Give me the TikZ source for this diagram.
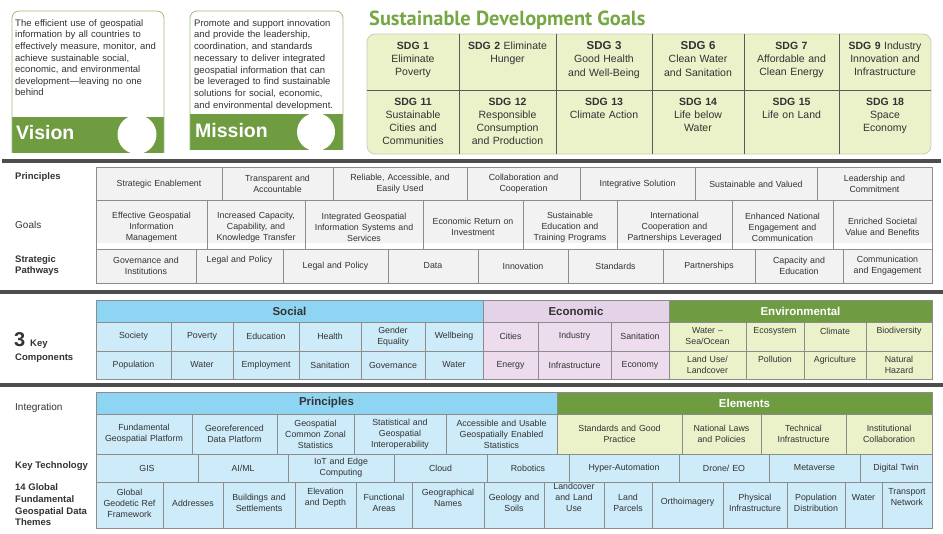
\documentclass[tikz,border=0pt]{standalone}
\usepackage{fontspec}
\setmainfont{Liberation Sans}
\newfontfamily\titlefont{PT Sans}
\definecolor{vgreen}{HTML}{6F9B41}
\definecolor{tgreen}{HTML}{77A744}
\definecolor{sdgfill}{HTML}{EBF1C9}
\definecolor{sdgline}{HTML}{C9D1B3}
\definecolor{lgreen}{HTML}{EBF1C9}
\definecolor{bluehd}{HTML}{8ED5F3}
\definecolor{bluec}{HTML}{CDEBF8}
\definecolor{pinkhd}{HTML}{E4D2E8}
\definecolor{pinkc}{HTML}{ECDCEE}
\definecolor{grayc}{HTML}{F2F2F2}
\definecolor{bord}{HTML}{8C8C8C}
\definecolor{txt}{HTML}{333333}
\definecolor{sepc}{HTML}{4D4D4D}
\definecolor{boxline}{HTML}{9CBB7C}

\newcommand\mkcell[8][0]{%
  \pgfmathsetmacro\cw{#5-#4}\pgfmathsetmacro\ch{#7-#6}%
  \pgfmathsetmacro\cx{(#4+#5)/2}\pgfmathsetmacro\cyy{(#6+#7)/2}%
  \pgfmathsetmacro\cyt{(#6+#7)/2-#1}\pgfmathsetmacro\tw{#5-#4-3}%
  \node[#2, minimum width=\cw pt, minimum height=\ch pt] (#3) at (\cx,\cyy) {};%
  \node[celltext, text width=\tw pt] (#3t) at (\cx,\cyt) {#8};}
\newcommand\hd[1]{\fontsize{11.5}{13}\selectfont\bfseries #1}
\newcommand\hdw[1]{\fontsize{11.5}{13}\selectfont\bfseries\color{white}#1}

\begin{document}
\begin{tikzpicture}[x=1pt,y=-1pt,
  cellbase/.style={rectangle, draw=bord, line width=0.6pt, inner sep=0pt, outer sep=0pt},
  graycell/.style={cellbase, fill=grayc},
  bluecell/.style={cellbase, fill=bluec},
  pinkcell/.style={cellbase, fill=pinkc},
  greencell/.style={cellbase, fill=lgreen},
  bluehead/.style={cellbase, fill=bluehd},
  pinkhead/.style={cellbase, fill=pinkhd},
  greenhead/.style={cellbase, fill=vgreen},
  celltext/.style={inner sep=0pt, align=center, text=txt, font=\fontsize{8.8}{11}\selectfont},
  lbl/.style={anchor=west, inner sep=0pt, text=txt, align=left, font=\fontsize{9.5}{11.5}\selectfont\bfseries},
  lblr/.style={anchor=west, inner sep=0pt, text=txt, align=left, font=\fontsize{10}{12}\selectfont},
  sepline/.style={draw=sepc, line width=3.5pt},
  boxtext/.style={anchor=north west, inner sep=0pt, text=txt, align=left, text width=152pt, font=\fontsize{9.5}{11.65}\selectfont},
  bigword/.style={anchor=base west, inner sep=0pt, text=white, font=\fontsize{19.5}{21}\selectfont\bfseries},
  sdgtext/.style={anchor=north, inner sep=0pt, align=center, text=txt, font=\fontsize{10.5}{13.2}\selectfont},
  divline/.style={draw=black!65, line width=0.7pt}
]
\useasboundingbox (0,0) rectangle (943,534);
\fill[white] (0,0) rectangle (943,534);

% ---------- Vision ----------
\fill[vgreen] (12,117) rectangle (164,153);
\draw[draw=boxline, line width=0.8pt, rounded corners=7] (12,153) -- (12,11) -- (164,11) -- (164,153);
\fill[white] (137,134.5) circle (19.5);
\node[boxtext] (vtext) at (15,19) {The efficient use of geospatial\\information by all countries to\\effectively measure, monitor, and\\achieve sustainable social,\\economic, and environmental\\development---leaving no one\\behind};
\node[bigword] (vword) at (16,140) {Vision};

% ---------- Mission ----------
\fill[vgreen] (190,114) rectangle (343,150);
\draw[draw=boxline, line width=0.8pt, rounded corners=7] (190,150) -- (190,11) -- (343,11) -- (343,150);
\fill[white] (316,132) circle (19);
\node[boxtext, font=\fontsize{9.5}{11.75}\selectfont] (mtext) at (194,19) {Promote and support innovation\\and provide the leadership,\\coordination, and standards\\necessary to deliver integrated\\geospatial information that can\\be leveraged to find sustainable\\solutions for social, economic,\\and environmental development.};
\node[bigword] (mword) at (195,138) {Mission};

% ---------- SDGs ----------
\node[anchor=west, inner sep=0pt, text=tgreen, font=\titlefont\fontsize{20.4}{22}\selectfont\bfseries] (sdgtitle) at (369,20) {Sustainable Development Goals};
\draw[draw=sdgline, fill=sdgfill, line width=0.8pt, rounded corners=8] (367,34) rectangle (931,154);
\draw[divline] (367,90) -- (931,90);
\foreach \xx in {459,556,652,744,839} \draw[divline] (\xx,34) -- (\xx,154);
\node[sdgtext, text width=88pt] (sdg1) at (413,41.5) {\textbf{SDG 1}\\Eliminate\\Poverty};
\node[sdgtext, text width=93pt] (sdg2) at (507.5,41.5) {\textbf{SDG 2} Eliminate\\Hunger};
\node[sdgtext, text width=92pt] (sdg3) at (604,41.5) {{\fontsize{11.5}{13.2}\selectfont\bfseries SDG 3}\\Good Health\\and Well-Being};
\node[sdgtext, text width=88pt] (sdg6) at (698,41.5) {{\fontsize{11.5}{13.2}\selectfont\bfseries SDG 6}\\Clean Water\\and Sanitation};
\node[sdgtext, text width=91pt] (sdg7) at (791.5,41.5) {\textbf{SDG 7}\\Affordable and\\Clean Energy};
\node[sdgtext, text width=90pt] (sdg9) at (885,41.5) {\textbf{SDG 9} Industry\\Innovation and\\Infrastructure};
\node[sdgtext, text width=88pt] (sdg11) at (413,97.5) {\textbf{SDG 11}\\Sustainable\\Cities and\\Communities};
\node[sdgtext, text width=93pt] (sdg12) at (507.5,97.5) {\textbf{SDG 12}\\Responsible\\Consumption\\and Production};
\node[sdgtext, text width=92pt] (sdg13) at (604,97.5) {\textbf{SDG 13}\\Climate Action};
\node[sdgtext, text width=88pt] (sdg14) at (698,97.5) {\textbf{SDG 14}\\Life below\\Water};
\node[sdgtext, text width=91pt] (sdg15) at (791.5,97.5) {\textbf{SDG 15}\\Life on Land};
\node[sdgtext, text width=90pt] (sdg18) at (885,97.5) {\textbf{SDG 18}\\Space\\Economy};

% ---------- separators ----------
\draw[sepline] (2,161) -- (941,161);
\draw[sepline] (0,292) -- (943,292);
\draw[sepline] (0,385) -- (943,385);

% ---------- Section 2 ----------
\node[lbl] (lprin) at (15,177) {Principles};
\node[lblr] (lgoals) at (15,225) {Goals};
\node[lbl] (lpath) at (15,265.5) {Strategic\\Pathways};

\mkcell[-1]{graycell}{p1}{96}{222}{167}{200}{Strategic Enablement}
\mkcell{graycell}{p2}{222}{333}{167}{200}{Transparent and\\Accountable}
\mkcell{graycell}{p3}{333}{467}{167}{200}{Reliable, Accessible, and\\Easily Used}
\mkcell{graycell}{p4}{467}{580}{167}{200}{Collaboration and\\Cooperation}
\mkcell[-1]{graycell}{p5}{580}{695}{167}{200}{Integrative Solution}
\mkcell[-1]{graycell}{p6}{695}{817}{167}{200}{Sustainable and Valued}
\mkcell{graycell}{p7}{817}{932}{167}{200}{Leadership and\\Commitment}

\begin{scope}
\clip (90,200) rectangle (940,243);
\mkcell[-3]{graycell}{g1}{96}{207}{200}{249}{Effective Geospatial\\Information\\Management}
\mkcell[-3]{graycell}{g2}{207}{305}{200}{249}{Increased Capacity,\\Capability, and\\Knowledge Transfer}
\mkcell[-3]{graycell}{g3}{305}{423}{200}{249}{Integrated Geospatial\\Information Systems and\\Services}
\mkcell[-2]{graycell}{g4}{423}{523}{200}{249}{Economic Return on\\Investment}
\mkcell[-3]{graycell}{g5}{523}{617}{200}{249}{Sustainable\\Education and\\Training Programs}
\mkcell[-3]{graycell}{g6}{617}{732}{200}{249}{International\\Cooperation and\\Partnerships Leveraged}
\mkcell[-3]{graycell}{g7}{732}{833}{200}{249}{Enhanced National\\Engagement and\\Communication}
\mkcell[-2]{graycell}{g8}{833}{932}{200}{249}{Enriched Societal\\Value and Benefits}
\end{scope}
\foreach \xx in {96,207,305,423,523,617,732,833,932} \draw[draw=bord, line width=0.6pt] (\xx,243) -- (\xx,249);

\mkcell{graycell}{s1}{96}{196}{249}{283}{Governance and\\Institutions}
\mkcell[6]{graycell}{s2}{196}{283}{249}{283}{Legal and Policy}
\mkcell{graycell}{s3}{283}{388}{249}{283}{Legal and Policy}
\mkcell{graycell}{s4}{388}{478}{249}{283}{Data}
\mkcell{graycell}{s5}{478}{568}{249}{283}{Innovation}
\mkcell{graycell}{s6}{568}{663}{249}{283}{Standards}
\mkcell{graycell}{s7}{663}{755}{249}{283}{Partnerships}
\mkcell{graycell}{s8}{755}{843}{249}{283}{Capacity and\\Education}
\mkcell{graycell}{s9}{843}{932}{249}{283}{Communication\\and Engagement}

% ---------- Section 3 ----------
\node[inner sep=0pt, anchor=base west, text=txt, font=\fontsize{20}{22}\selectfont\bfseries] (lthree) at (14,347) {3};
\node[inner sep=0pt, anchor=base west, text=txt, font=\fontsize{9.5}{11}\selectfont\bfseries] (lkey) at (30,347) {Key};
\node[inner sep=0pt, anchor=base west, text=txt, font=\fontsize{9.5}{11}\selectfont\bfseries] (lcomp) at (15,361) {Components};

\mkcell{bluehead}{hsoc}{96}{483}{300}{322}{\hd{Social}}
\mkcell{pinkhead}{heco}{483}{669}{300}{322}{\hd{Economic}}
\mkcell{greenhead}{henv}{669}{932}{300}{322}{\hdw{Environmental}}

\mkcell{bluecell}{c1}{96}{171}{322}{351}{Society}
\mkcell{bluecell}{c2}{171}{233}{322}{351}{Poverty}
\mkcell{bluecell}{c3}{233}{299}{322}{351}{Education}
\mkcell{bluecell}{c4}{299}{361}{322}{351}{Health}
\mkcell{bluecell}{c5}{361}{425}{322}{351}{Gender\\Equality}
\mkcell{bluecell}{c6}{425}{483}{322}{351}{Wellbeing}
\mkcell{bluecell}{c7}{96}{171}{351}{379}{Population}
\mkcell{bluecell}{c8}{171}{233}{351}{379}{Water}
\mkcell{bluecell}{c9}{233}{299}{351}{379}{Employment}
\mkcell{bluecell}{c10}{299}{361}{351}{379}{Sanitation}
\mkcell{bluecell}{c11}{361}{425}{351}{379}{Governance}
\mkcell{bluecell}{c12}{425}{483}{351}{379}{Water}

\mkcell{pinkcell}{c13}{483}{538}{322}{351}{Cities}
\mkcell{pinkcell}{c14}{538}{611}{322}{351}{Industry}
\mkcell{pinkcell}{c15}{611}{669}{322}{351}{Sanitation}
\mkcell{pinkcell}{c16}{483}{538}{351}{379}{Energy}
\mkcell{pinkcell}{c17}{538}{611}{351}{379}{Infrastructure}
\mkcell{pinkcell}{c18}{611}{669}{351}{379}{Economy}

\mkcell{greencell}{c19}{669}{746}{322}{351}{Water --\\Sea/Ocean}
\mkcell[5.5]{greencell}{c20}{746}{804}{322}{351}{Ecosystem}
\mkcell[5.5]{greencell}{c21}{804}{866}{322}{351}{Climate}
\mkcell[5.5]{greencell}{c22}{866}{932}{322}{351}{Biodiversity}
\mkcell{greencell}{c23}{669}{746}{351}{379}{Land Use/\\Landcover}
\mkcell[6]{greencell}{c24}{746}{804}{351}{379}{Pollution}
\mkcell[5]{greencell}{c25}{804}{866}{351}{379}{Agriculture}
\mkcell{greencell}{c26}{866}{932}{351}{379}{Natural\\Hazard}

% ---------- Section 4 ----------
\node[lblr] (linteg) at (15,408) {Integration};
\node[lbl] (ltech) at (15,466) {Key Technology};
\node[lbl, font=\fontsize{9.5}{11.7}\selectfont\bfseries] (lthemes) at (15,505) {14 Global\\Fundamental\\Geospatial Data\\Themes};

\mkcell{bluehead}{hpri}{96}{557}{392}{414}{\hd{Principles}}
\mkcell{greenhead}{hele}{557}{932}{392}{414}{\hdw{Elements}}

\mkcell{bluecell}{i1}{96}{192}{414}{454}{Fundamental\\Geospatial Platform}
\mkcell{bluecell}{i2}{192}{277}{414}{454}{Georeferenced\\Data Platform}
\mkcell{bluecell}{i3}{277}{354}{414}{454}{Geospatial\\Common Zonal\\Statistics}
\mkcell{bluecell}{i4}{354}{446}{414}{454}{Statistical and\\Geospatial\\Interoperability}
\mkcell{bluecell}{i5}{446}{557}{414}{454}{Accessible and Usable\\Geospatially Enabled\\Statistics}
\mkcell{greencell}{e1}{557}{682}{414}{454}{Standards and Good\\Practice}
\mkcell{greencell}{e2}{682}{761}{414}{454}{National Laws\\and Policies}
\mkcell{greencell}{e3}{761}{846}{414}{454}{Technical\\Infrastructure}
\mkcell{greencell}{e4}{846}{932}{414}{454}{Institutional\\Collaboration}

\mkcell{bluecell}{t1}{96}{198}{454}{482}{GIS}
\mkcell{bluecell}{t2}{198}{288}{454}{482}{AI/ML}
\mkcell{bluecell}{t3}{288}{394}{454}{482}{IoT and Edge\\Computing}
\mkcell{bluecell}{t4}{394}{487}{454}{482}{Cloud}
\mkcell{bluecell}{t5}{487}{569}{454}{482}{Robotics}
\mkcell{bluecell}{t6}{569}{679}{454}{482}{Hyper-Automation}
\mkcell{bluecell}{t7}{679}{769}{454}{482}{Drone/ EO}
\mkcell{bluecell}{t8}{769}{860}{454}{482}{Metaverse}
\mkcell{bluecell}{t9}{860}{932}{454}{482}{Digital Twin}

\mkcell[2]{bluecell}{d1}{96}{163}{482}{528}{Global\\Geodetic Ref\\Framework}
\mkcell[2]{bluecell}{d2}{163}{223}{482}{528}{Addresses}
\mkcell[2.5]{bluecell}{d3}{223}{295}{482}{528}{Buildings and\\Settlements}
\mkcell[7.5]{bluecell}{d4}{295}{356}{482}{528}{Elevation\\and Depth}
\mkcell[2.5]{bluecell}{d5}{356}{412}{482}{528}{Functional\\Areas}
\mkcell[7.5]{bluecell}{d6}{412}{484}{482}{528}{Geographical\\Names}
\mkcell[2]{bluecell}{d7}{484}{544}{482}{528}{Geology and\\Soils}
\mkcell[7.5]{bluecell}{d8}{544}{604}{482}{528}{Landcover\\and Land\\Use}
\mkcell[2]{bluecell}{d9}{604}{652}{482}{528}{Land\\Parcels}
\mkcell[3]{bluecell}{d10}{652}{723}{482}{528}{Orthoimagery}
\mkcell[2]{bluecell}{d11}{723}{787}{482}{528}{Physical\\Infrastructure}
\mkcell[2]{bluecell}{d12}{787}{845}{482}{528}{Population\\Distribution}
\mkcell[7]{bluecell}{d13}{845}{882}{482}{528}{Water}
\mkcell[8]{bluecell}{d14}{882}{932}{482}{528}{Transport\\Network}
\end{tikzpicture}
\end{document}
